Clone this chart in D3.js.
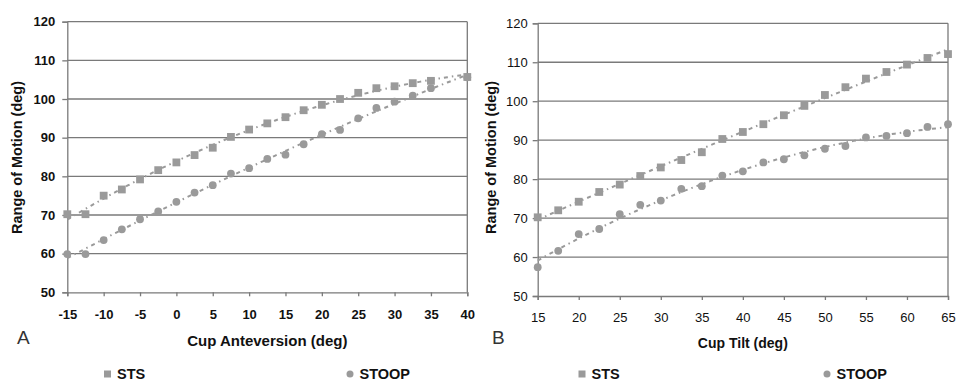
<!DOCTYPE html>
<html><head><meta charset="utf-8">
<script src="https://cdn.jsdelivr.net/npm/d3@7"></script>
<style>body{margin:0;background:#fff}svg{display:block}</style>
</head><body>
<svg id="c" width="956" height="381"></svg>
<script>
// Panel A: cup anteversion
const anteX = [-15,-12.5,-10,-7.5,-5,-2.5,0,2.5,5,7.5,10,12.5,15,17.5,20,22.5,25,27.5,30,32.5,35,40];
const anteSTS = [70.2,70.2,75,76.6,79.2,81.6,83.6,85.5,87.4,90.2,92.1,93.7,95.3,97.1,98.5,100,101.6,102.8,103.3,104.1,104.7,105.7];
const anteSTOOP = [59.9,59.9,63.5,66.3,68.9,70.9,73.4,75.8,77.7,80.7,82.1,84.5,85.6,88.3,90.9,92,95,97.7,99.3,100.9,102.8,105.6];
const anteTicks = [-15,-10,-5,0,5,10,15,20,25,30,35,40];
// Panel B: cup tilt
const tiltX = [15,17.5,20,22.5,25,27.5,30,32.5,35,37.5,40,42.5,45,47.5,50,52.5,55,57.5,60,62.5,65];
const tiltSTS = [70.2,72,74.2,76.7,78.6,80.8,83,84.9,86.9,90.3,92.1,94.1,96.4,98.8,101.6,103.6,105.8,107.5,109.4,111.1,112.1];
const tiltSTOOP = [57.4,61.6,65.9,67.2,71,73.4,74.5,77.5,78.2,80.9,82,84.3,85.1,86.1,87.8,88.5,90.7,91.1,91.8,93.4,94.1];
const tiltTicks = [15,20,25,30,35,40,45,50,55,60,65];
const yTicks = [50,60,70,80,90,100,110,120];
const seriesNames = ["STS","STOOP"];

const svg = d3.select("#c");
const gridCol = "#7a7a7a", markCol = "#9a9a9a", font = "'Liberation Sans', Arial, sans-serif";
const fmt = d => String(d); // plain hyphen-minus like the original

function quadFit(xs, ys){
  // least squares quadratic trendline
  let s=[0,0,0,0,0], t=[0,0,0];
  xs.forEach((x,i)=>{const y=ys[i];let p=1;for(let k=0;k<5;k++){s[k]+=p; if(k<3)t[k]+=p*y; p*=x;}});
  const A=[[s[0],s[1],s[2],t[0]],[s[1],s[2],s[3],t[1]],[s[2],s[3],s[4],t[2]]];
  for(let i=0;i<3;i++){for(let j=i+1;j<3;j++){const f=A[j][i]/A[i][i];for(let k=i;k<4;k++)A[j][k]-=f*A[i][k];}}
  const c=[0,0,0];
  for(let i=2;i>=0;i--){let v=A[i][3];for(let k=i+1;k<3;k++)v-=A[i][k]*c[k];c[i]=v/A[i][i];}
  return x=>c[0]+c[1]*x+c[2]*x*x;
}

function panel(o){
  const g = svg.append("g");
  const x = d3.scaleLinear().domain(o.xDomain).range([o.x0,o.x1]);
  const y = d3.scaleLinear().domain([50,120]).range([o.y1,o.y0]);
  g.selectAll(".grid").data(yTicks.filter(d=>d>50)).join("line")
    .attr("x1",o.x0).attr("x2",o.x1).attr("y1",d=>y(d)).attr("y2",d=>y(d))
    .attr("stroke",gridCol).attr("stroke-width",1.3);
  g.append("line").attr("x1",o.x1).attr("x2",o.x1).attr("y1",o.y0).attr("y2",o.y1)
    .attr("stroke",gridCol).attr("stroke-width",1.3);
  const ya = g.append("g").attr("transform",`translate(${o.x0},0)`)
    .call(d3.axisLeft(y).tickValues(yTicks).tickFormat(fmt).tickSize(5).tickPadding(o.yPad));
  const xa = g.append("g").attr("transform",`translate(0,${o.y1})`)
    .call(d3.axisBottom(x).tickValues(o.ticks).tickFormat(fmt).tickSize(4).tickPadding(o.xPad));
  [ya,xa].forEach(a=>{
    a.select(".domain").attr("stroke",gridCol).attr("stroke-width",1.3);
    a.selectAll(".tick line").attr("stroke",gridCol).attr("stroke-width",1.3);
    a.selectAll("text").attr("fill","#111").attr("font-family",font)
      .attr("font-size",o.tickSize).attr("font-weight",o.tickWeight);
  });
  [o.sts,o.stoop].forEach(vals=>{
    const f = quadFit(o.xs, vals);
    const pts = d3.range(0,101).map(i=>{const xv=o.xDomain[0]+(o.xDomain[1]-o.xDomain[0])*i/100;return [xv,f(xv)];});
    g.append("path").attr("d",d3.line().x(d=>x(d[0])).y(d=>y(d[1]))(pts))
      .attr("fill","none").attr("stroke",markCol).attr("stroke-width",2)
      .attr("stroke-dasharray","4,4,1.5,4");
  });
  g.selectAll(".sq").data(o.xs.map((d,i)=>[d,o.sts[i]])).join("rect")
    .attr("x",d=>x(d[0])-3.9).attr("y",d=>y(d[1])-3.9).attr("width",7.8).attr("height",7.8)
    .attr("fill",markCol);
  g.selectAll(".ci").data(o.xs.map((d,i)=>[d,o.stoop[i]])).join("circle")
    .attr("cx",d=>x(d[0])).attr("cy",d=>y(d[1])).attr("r",3.9).attr("fill",markCol);
  g.append("text").attr("x",(o.x0+o.x1)/2).attr("y",o.xTitleY).attr("text-anchor","middle")
    .attr("font-family",font).attr("font-size",o.xTitleSize).attr("font-weight","bold").attr("fill","#111")
    .text(o.xTitle);
  g.append("text").attr("transform",`translate(${o.yTitleX},157.5) rotate(-90)`)
    .attr("text-anchor","middle").attr("font-family",font).attr("font-size",14.5)
    .attr("font-weight","bold").attr("fill","#111").text("Range of Motion (deg)");
  g.append("text").attr("x",o.letterX).attr("y",344).attr("font-family",font)
    .attr("font-size",19).attr("fill","#333").text(o.letter);
  g.append("rect").attr("x",o.legX[0]-3.5).attr("y",370.5).attr("width",7).attr("height",7).attr("fill",markCol);
  g.append("circle").attr("cx",o.legX[1]).attr("cy",374).attr("r",3.5).attr("fill",markCol);
  seriesNames.forEach((s,i)=>{
    g.append("text").attr("x",o.legX[i]+9.5).attr("y",379).attr("font-family",font)
      .attr("font-size",14.5).attr("font-weight","bold").attr("fill","#111").text(s);
  });
}

panel({xDomain:[-15,40], ticks:anteTicks, xs:anteX, sts:anteSTS, stoop:anteSTOOP,
  x0:67.3, x1:467.3, y0:21.7, y1:292.3, tickSize:13, tickWeight:"bold", xPad:13, yPad:7,
  xTitle:"Cup Anteversion (deg)", xTitleSize:15, xTitleY:346, yTitleX:21.5, letter:"A", letterX:17,
  legX:[107.5,350]});
panel({xDomain:[15,65], ticks:tiltTicks, xs:tiltX, sts:tiltSTS, stoop:tiltSTOOP,
  x0:537.7, x1:948, y0:23.3, y1:296, tickSize:13, tickWeight:"normal", xPad:13, yPad:5,
  xTitle:"Cup Tilt (deg)", xTitleSize:14, xTitleY:348, yTitleX:496, letter:"B", letterX:492,
  legX:[582,827]});
</script>
</body></html>
